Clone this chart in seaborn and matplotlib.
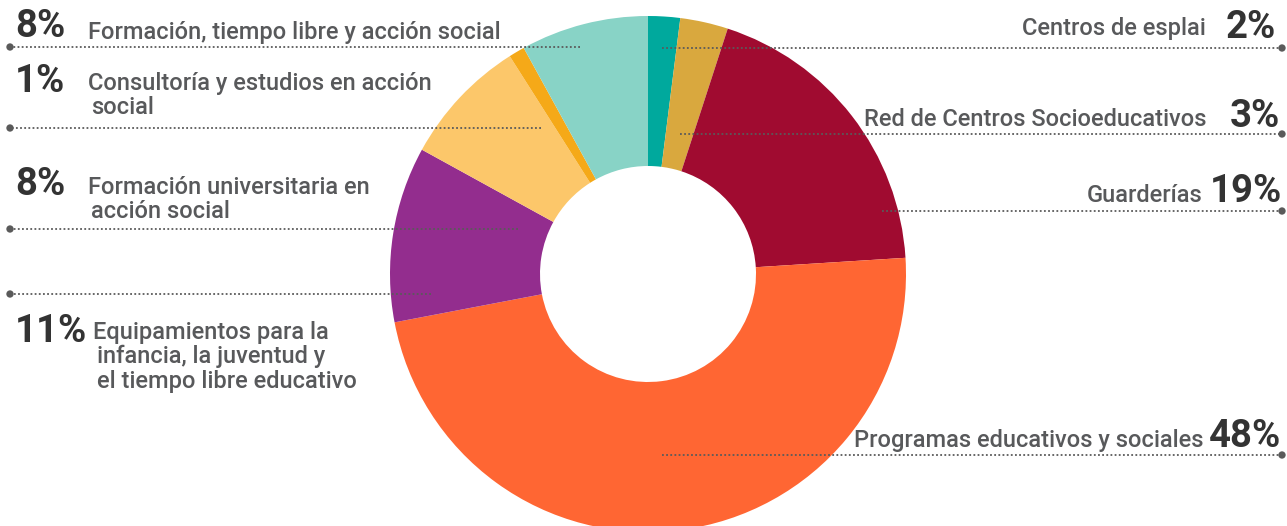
import matplotlib
matplotlib.use("Agg")
import matplotlib.pyplot as plt
import seaborn as sns
import pandas as pd

# ---- data ----
categories = [
    "Centros de esplai",
    "Red de Centros Socioeducativos",
    "Guarderías",
    "Programas educativos y sociales",
    "Equipamientos para la\ninfancia, la juventud y\nel tiempo libre educativo",
    "Formación universitaria en\nacción social",
    "Consultoría y estudios en acción\nsocial",
    "Formación, tiempo libre y acción social",
]
values = [2, 3, 19, 48, 11, 8, 1, 8]
pct_labels = ["2%", "3%", "19%", "48%", "11%", "8%", "1%", "8%"]
colors = ["#00A99D", "#D9A83E", "#A00B30", "#FF6633",
          "#932D8E", "#FCC76A", "#F5A918", "#88D3C6"]

sns.set_theme(style="white")
plt.rcParams["font.family"] = ["Roboto", "DejaVu Sans"]

W, H = 1287, 526
fig = plt.figure(figsize=(W / 100, H / 100), dpi=100)
ax = fig.add_axes([0, 0, 1, 1])

def Y(y):
    return H - y

cx, cy, R, r_in = 648, 274, 258, 108
ax.pie(values, colors=colors, startangle=90, counterclock=False,
       center=(cx, Y(cy)), radius=R,
       wedgeprops=dict(width=R - r_in, linewidth=0))
ax.set_xlim(0, W)
ax.set_ylim(0, H)
ax.set_aspect("auto")
ax.axis("off")

# ---- layout (pixels from top-left) ----
# side, line y, inner x, pct anchor (x, baseline), label anchor (x, baseline)
layout = [
    ("R", 48, 662, (1276, 38), (1206, 35)),
    ("R", 134, 680, (1280, 127), (1207, 126)),
    ("R", 211, 882, (1282, 202), (1203, 202)),
    ("R", 455, 662, (1281, 447), (1203, 447)),
    ("L", 294, 431, (15, 342), (93, 339)),
    ("L", 229, 518, (15, 195), (88, 194)),
    ("L", 128, 541, (15, 92), (88, 90)),
    ("L", 47, 580, (15, 37), (88, 39)),
]

line_col = "#5a5a5a"
pct_col = "#333333"
lab_col = "#58595B"
pct_fs = 27.5
lab_fs = 17.0
line_gap = 24.5

dots = []
for (side, ly, xin, (px, pb), (tx, tb)), cat, pct in zip(layout, categories, pct_labels):
    xout = 10 if side == "L" else 1282
    ax.plot([xin, xout], [Y(ly), Y(ly)], color=line_col, lw=1.3,
            linestyle=(0, (1, 1.3)), solid_capstyle="butt", zorder=3)
    dots.append((xout, Y(ly)))
    ha = "left" if side == "L" else "right"
    ax.text(px, Y(pb), pct, ha=ha, va="baseline", fontsize=pct_fs,
            fontweight="bold", color=pct_col)
    lines = cat.split("\n")
    for i, line in enumerate(lines):
        xoff = 0
        if side == "L" and i > 0:
            xoff = 4 if len(lines) == 3 else 3
        ax.text(tx + xoff, Y(tb + i * line_gap), line, ha=ha, va="baseline",
                fontsize=lab_fs, fontweight="medium", color=lab_col)

dots_df = pd.DataFrame(dots, columns=["x", "y"])
sns.scatterplot(data=dots_df, x="x", y="y", ax=ax, color=line_col, s=28,
                edgecolor="none", zorder=4, legend=False)
ax.set_xlim(0, W)
ax.set_ylim(0, H)
ax.axis("off")

fig.savefig("out.png", dpi=100, facecolor="white")
